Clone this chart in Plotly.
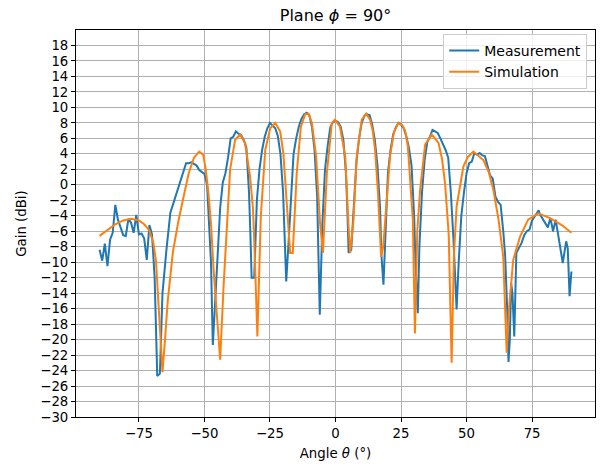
import plotly.graph_objects as go

# Measurement (blue)
meas_theta = [-90, -89, -88, -87, -86, -85, -84, -83, -82, -81, -80, -79, -78, -77, -76, -75, -74, -73, -72, -71,
              -70, -69, -68, -67, -66, -65.5, -64.5, -63, -62, -61, -60, -59, -58, -57, -56, -55, -54, -53, -52, -51,
              -50, -49, -48.5, -47.5, -46.8, -46, -45, -44, -43, -42, -41, -40, -39, -38, -37, -36, -35, -34, -33.5, -33,
              -32.5, -32, -31, -30, -29, -28, -27, -26, -25, -24, -23, -22, -21, -20, -19.5, -18.8, -18, -17, -16, -15,
              -14, -13, -12, -11, -10, -9, -8, -7, -6.5, -6, -5, -4, -3, -2, -1, 0, 1, 2, 3, 4,
              4.5, 5, 6, 7, 8, 9, 10, 11, 12, 13, 14, 15, 16, 17, 17.5, 18.3, 19, 20, 21, 22,
              23, 24, 25, 26, 27, 28, 29, 30, 30.5, 31.4, 32, 33, 34, 35, 36, 37, 38, 39, 40, 41,
              42, 43, 44, 45, 46.2, 47, 48, 49, 50, 51, 52, 53, 54, 55, 56, 57, 58, 59, 60, 61,
              62, 63, 64, 64.7, 65.5, 66, 66.5, 67, 67.5, 68.2, 69, 70, 71, 72, 73, 74, 75, 76, 77, 77.5,
              78, 79, 80, 81, 82, 83, 84, 85, 86, 86.7, 88, 88.6, 89.3, 90]
meas_gain = [-8.4, -9.8, -7.6, -10.5, -7.1, -6.2, -2.6, -4.5, -5.5, -6.5, -6.6, -4.4, -4.9, -6.2, -3.9, -6.4, -6.3, -6.9, -9.7, -5.2,
             -6.4, -12.0, -24.7, -24.4, -14.0, -11.8, -8.4, -3.6, -2.5, -1.3, -0.5, 0.7, 1.8, 2.8, 2.8, 2.9, 2.7, 2.5, 1.9, 1.7,
             1.4, 0.0, -3.0, -10.0, -20.7, -16.0, -8.5, -3.0, 0.3, 1.5, 3.5, 6.0, 6.2, 6.9, 6.6, 6.4, 5.8, 4.8, 2.0, -1.0,
             -6.0, -12.0, -12.0, -2.0, 2.0, 4.5, 6.2, 7.3, 8.0, 7.7, 7.3, 6.3, 4.0, -1.0, -6.0, -12.5, -8.0, -1.0, 4.0, 6.0,
             7.5, 8.5, 9.1, 9.3, 9.0, 7.5, 4.5, -1.5, -8.0, -16.8, -5.0, 2.0, 5.0, 7.4, 8.1, 8.3, 8.1, 7.5, 5.8, 1.5,
             -3.0, -8.8, -8.4, -2.0, 3.0, 6.0, 8.0, 8.9, 9.1, 9.0, 7.8, 5.8, 2.5, -3.0, -9.0, -12.9, -6.0, 1.5, 4.5, 6.5,
             7.4, 8.0, 7.8, 7.3, 6.3, 4.8, 2.5, -4.0, -10.0, -16.6, -8.0, -1.0, 3.2, 5.5, 6.2, 7.1, 6.9, 6.7, 6.0, 5.3,
             4.5, 3.5, -1.0, -7.0, -16.1, -10.0, -4.0, -1.0, 1.5, 2.8, 3.0, 4.1, 3.9, 4.1, 3.8, 3.7, 2.5, 1.2, 0.8, -1.5,
             -2.2, -2.6, -6.0, -9.0, -16.0, -22.9, -20.0, -12.7, -14.0, -19.6, -8.8, -8.2, -7.5, -6.5, -6.0, -5.8, -4.6, -4.1, -3.5, -3.3,
             -3.8, -4.4, -5.0, -5.5, -4.3, -6.0, -4.5, -6.5, -8.5, -10.1, -7.3, -8.2, -14.4, -11.2]

# Simulation (orange)
sim_theta = [-90, -87, -84, -81, -78, -75, -73, -71, -69.5, -68.5, -67.5, -66, -65, -64, -62, -60, -58, -56, -54, -52,
             -50.5, -49.5, -48.5, -47.5, -46.5, -45, -44, -42.7, -41.5, -40.2, -38.3, -36.4, -34.5, -32.6, -31.5, -31, -29.8, -28.5, -26.8, -24.9,
             -23, -21.1, -19.9, -18.6, -17.3, -16.3, -14.8, -13.2, -11.6, -10.3, -9, -7.4, -5.9, -4.8, -3.3, -1.4, -0.2, 1.7, 3.7, 4.9,
             5.6, 6.8, 8.1, 10, 11.7, 13.2, 14.2, 15.1, 16.2, 17.4, 18.2, 18.9, 20.8, 22.3, 24, 25.5, 26.6, 27.6, 28.4, 29.5,
             30.3, 31.2, 32.3, 34.2, 36.7, 39.3, 40.6, 41.8, 43.2, 44.3, 45.2, 46.2, 48.8, 50.5, 52.6, 56.4, 58.5, 60.2, 62.2, 64,
             65.3, 66.2, 67.8, 70.4, 73.5, 77.4, 81.8, 86.3, 90]
sim_gain = [-6.6, -5.8, -5.1, -4.6, -4.4, -4.6, -5.1, -5.9, -7.5, -9.8, -15.0, -24.2, -19.8, -15.0, -8.6, -4.8, -1.6, 1.5, 3.5, 4.3,
            3.9, 2.0, -1.0, -5.0, -11.0, -17.5, -22.6, -13.1, -5.5, 2.0, 5.8, 6.5, 5.4, 1.1, -3.0, -7.1, -19.6, -4.1, 4.5, 7.3,
            8.0, 6.9, 4.1, -1.9, -8.8, -8.8, 1.5, 7.5, 9.1, 9.2, 8.0, 3.7, -4.9, -8.8, 1.5, 8.0, 8.4, 7.5, 3.7, -4.9,
            -8.8, -4.9, 3.7, 8.4, 9.2, 8.4, 7.0, 4.5, -1.0, -9.3, -8.0, -4.9, 3.7, 6.8, 8.0, 7.7, 6.9, 5.0, 1.5, -4.5,
            -19.2, -6.0, -0.6, 5.2, 6.5, 5.4, 3.4, 0.2, -6.5, -23.0, -9.0, -2.8, 2.4, 3.6, 4.3, 3.2, 1.6, -0.6, -4.5, -9.3,
            -21.7, -16.0, -9.7, -6.7, -4.5, -3.7, -4.3, -5.2, -6.2]

x_ticks = [-75, -50, -25, 0, 25, 50, 75]
y_ticks = list(range(-30, 20, 2))

FONT = "DejaVu Sans"
fig = go.Figure()
fig.add_trace(go.Scatter(x=meas_theta, y=meas_gain, mode="lines", name="Measurement",
                         line=dict(color="#1f77b4", width=2)))
fig.add_trace(go.Scatter(x=sim_theta, y=sim_gain, mode="lines", name="Simulation",
                         line=dict(color="#ff7f0e", width=2)))

axis_common = dict(showgrid=True, gridcolor="#b0b0b0", gridwidth=1, showline=True, linecolor="black",
                   linewidth=1, mirror=True, ticks="outside", ticklen=4, tickcolor="black",
                   tickfont=dict(family=FONT, size=13.3, color="black"), zeroline=False)

fig.update_layout(
    width=600, height=466,
    margin=dict(l=76, r=5, t=30, b=49),
    paper_bgcolor="white", plot_bgcolor="white",
    font=dict(family=FONT, size=13, color="black"),
    title=dict(text="Plane <i>ϕ</i> = 90°", x=0.5, xref="paper", xanchor="center",
               y=1 - 15 / 466, yref="container", yanchor="middle",
               font=dict(family=FONT, size=16, color="black")),
    xaxis=dict(range=[-99, 99], tickvals=x_ticks,
               title=dict(text="Angle <i>θ</i> (°)", standoff=8, font=dict(family=FONT, size=13.3)),
               **axis_common),
    yaxis=dict(range=[-30, 20], tickvals=y_ticks,
               title=dict(text="Gain (dBi)", standoff=10, font=dict(family=FONT, size=13.3)),
               **axis_common),
    legend=dict(x=0.985, y=0.99, xanchor="right", yanchor="top",
                bgcolor="rgba(255,255,255,0.8)", bordercolor="#cccccc", borderwidth=1,
                font=dict(family=FONT, size=14), tracegroupgap=0),
    showlegend=True,
)

fig.write_html("out.html")
